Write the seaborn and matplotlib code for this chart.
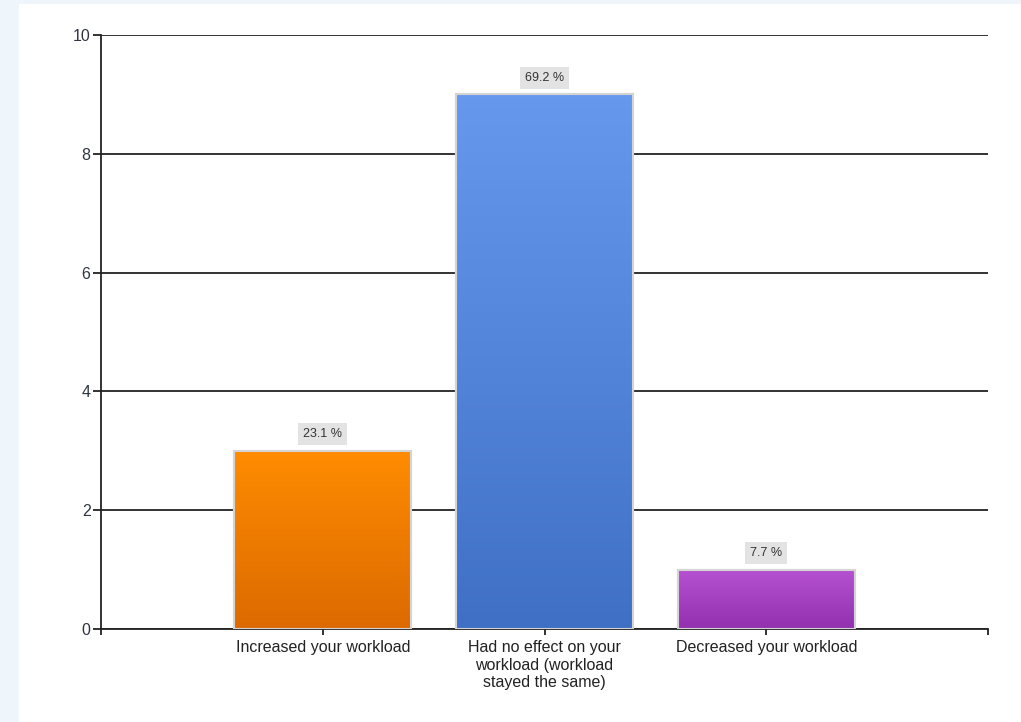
import numpy as np
import seaborn as sns
import matplotlib.pyplot as plt
from matplotlib.patches import Rectangle

sns.set_theme(style="white")
plt.rcParams['font.family'] = ['Liberation Sans', 'DejaVu Sans']

categories = ["Increased your workload",
              "Had no effect on your\nworkload (workload\nstayed the same)",
              "Decreased your workload"]
counts = [3, 9, 1]
percents = [23.1, 69.2, 7.7]
# gradient colours for each bar (top, bottom)
top_colors = ["#ff8c00", "#6699ee", "#b652d2"]
bottom_colors = ["#dc6a00", "#3f70c6", "#9230b0"]

fig = plt.figure(figsize=(10.21, 7.22), dpi=100)
fig.patch.set_facecolor("#eef6fc")
# white panel over the light blue background
fig.patches.append(Rectangle((19 / 1021, 0), 1, 1 - 4 / 722, transform=fig.transFigure,
                             facecolor="white", edgecolor="none", zorder=-10))

ax = fig.add_axes([101 / 1021, 1 - 629 / 722, (988 - 101) / 1021, (629 - 35) / 722])
ax.set_facecolor("none")
sns.barplot(x=categories, y=counts, palette=top_colors, hue=categories, legend=False,
            width=0.8, edgecolor="#d4d4d4", linewidth=1.5, saturation=1, ax=ax, zorder=3)

ax.set_xlim(-1, 3)
ax.set_ylim(0, 10)

# gradient fill inside each bar
for i, bar in enumerate(list(ax.patches)):
    x0, y0 = bar.get_x(), bar.get_y()
    w, h = bar.get_width(), bar.get_height()
    c1 = np.array(plt.matplotlib.colors.to_rgb(top_colors[i]))
    c2 = np.array(plt.matplotlib.colors.to_rgb(bottom_colors[i]))
    t = np.linspace(0, 1, 100)[:, None]
    grad = (c1 * (1 - t) + c2 * t)[:, None, :]
    im = ax.imshow(grad, extent=[x0, x0 + w, y0, y0 + h], origin="upper",
                   aspect="auto", zorder=3.5)
    im.set_clip_path(bar)
    edge = Rectangle((x0, y0), w, h, facecolor="none", edgecolor="#d4d4d4",
                     linewidth=1.5, zorder=4)
    ax.add_patch(edge)
    ax.annotate(f"{percents[i]} %", (x0 + w / 2, y0 + h), xytext=(0, 12),
                textcoords="offset points", ha="center", va="center",
                fontsize=9, color="#333333",
                bbox=dict(boxstyle="square,pad=0.4", facecolor="#e3e3e3", edgecolor="none"))

ax.set_xlim(-1, 3)
ax.set_ylim(0, 10)
ax.set_yticks([0, 2, 4, 6, 8, 10])
ax.set_yticklabels(["0", "2", "4", "6", "8", "10"], fontsize=11.5, color="#2f3540")
ax.set_xticks([-1, 0, 1, 2, 3])
ax.set_xticklabels([""] + categories + [""], fontsize=11.5, color="#222222",
                   linespacing=1.2)
ax.yaxis.grid(True, color="#222222", linewidth=1.3, zorder=1)
ax.set_axisbelow(True)

for s in ["top", "right"]:
    ax.spines[s].set_visible(False)
for s in ["left", "bottom"]:
    ax.spines[s].set_color("#222222")
    ax.spines[s].set_linewidth(1.3)
ax.tick_params(axis="y", direction="out", length=6, width=1.3,
               color="#222222", pad=1.5, left=True)
ax.tick_params(axis="x", direction="out", length=4.5, width=1.3,
               color="#222222", pad=3.5, bottom=True)
ax.set_xlabel("")
ax.set_ylabel("")

fig.savefig("out.png", dpi=100, facecolor=fig.get_facecolor())
